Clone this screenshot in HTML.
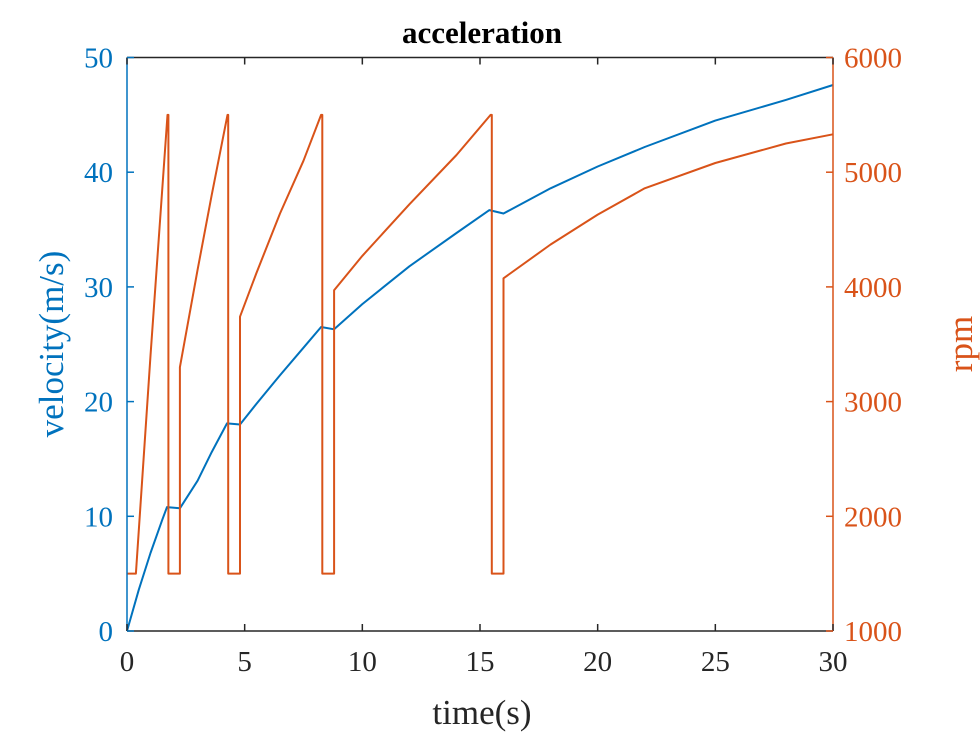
<!DOCTYPE html>
<html><head><meta charset="utf-8"><style>
body{margin:0;background:#fff;width:980px;height:735px;overflow:hidden}
svg{display:block;font-family:"Liberation Serif",serif}
</style></head><body>
<svg id="chart" width="980" height="735" viewBox="0 0 980 735"></svg>
<script>
const xTicks=[0,5,10,15,20,25,30];
const yLeftTicks=[0,10,20,30,40,50];
const yRightTicks=[1000,2000,3000,4000,5000,6000];
const velT=[0,0.5,1,1.5,1.7,2.25,3,3.6,4.25,4.8,5.5,6.5,7.5,8.25,8.8,10,12,14,15.4,16,18,20,22,25,28,30];
const velV=[0,3.6,6.8,9.7,10.8,10.7,13.1,15.6,18.1,18.0,19.8,22.3,24.7,26.5,26.3,28.5,31.8,34.7,36.7,36.4,38.6,40.5,42.2,44.5,46.3,47.6];
const rpmT=[0,0.38,1,1.72,1.76,1.76,2.25,2.25,3,3.6,4.27,4.3,4.3,4.8,4.8,5.5,6.5,7.5,8.25,8.3,8.3,8.8,8.8,10,12,14,15.45,15.5,15.5,16,16,18,20,22,25,28,30];
const rpmV=[1500,1500,3400,5500,5500,1500,1500,3300,4150,4800,5500,5500,1500,1500,3740,4120,4640,5100,5500,5500,1500,1500,3970,4270,4720,5150,5500,5500,1500,1500,4075,4370,4630,4860,5080,5250,5330];

const L=127,R=833,T=57.5,B=631;
const sx=t=>L+(t-0)/30*(R-L);
const syL=v=>B-v/50*(B-T);
const syR=v=>B-(v-1000)/5000*(B-T);
const svg=document.getElementById('chart');
const NS='http://www.w3.org/2000/svg';
function mk(tag,attrs,txt){const e=document.createElementNS(NS,tag);for(const k in attrs)e.setAttribute(k,attrs[k]);if(txt!==undefined)e.textContent=txt;svg.appendChild(e);return e;}
const blue='#0072BD',orange='#D95319',dark='#262626';

let d=velT.map((t,i)=>(i?'L':'M')+sx(t).toFixed(1)+','+syL(velV[i]).toFixed(1)).join('');
let p=mk('path',{d:d,fill:'none',stroke:blue,'stroke-width':2,'stroke-linejoin':'round'});


d=rpmT.map((t,i)=>(i?'L':'M')+sx(t).toFixed(1)+','+syR(rpmV[i]).toFixed(1)).join('');
p=mk('path',{d:d,fill:'none',stroke:orange,'stroke-width':2,'stroke-linejoin':'round'});



let a=mk('line',{x1:L,y1:B,x2:R,y2:B,stroke:dark,'stroke-width':1.5});

a=mk('line',{x1:L,y1:T,x2:R,y2:T,stroke:dark,'stroke-width':1.5});

a=mk('line',{x1:L,y1:T,x2:L,y2:B,stroke:blue,'stroke-width':1.5});

a=mk('line',{x1:R,y1:T,x2:R,y2:B,stroke:orange,'stroke-width':1.5});


xTicks.forEach(v=>{
  const x=sx(v);
  mk('line',{x1:x,y1:B,x2:x,y2:B-7,stroke:dark,'stroke-width':1.5});
  mk('line',{x1:x,y1:T,x2:x,y2:T+7,stroke:dark,'stroke-width':1.5});
  const t=mk('text',{x:x,y:B+40,'text-anchor':'middle','font-size':29,fill:dark},v);
  
  
});
yLeftTicks.forEach(v=>{
  const y=syL(v);
  mk('line',{x1:L,y1:y,x2:L+7,y2:y,stroke:blue,'stroke-width':1.5});
  const t=mk('text',{x:L-14,y:y+10,'text-anchor':'end','font-size':29,fill:blue},v);
  
  
});
yRightTicks.forEach(v=>{
  const y=syR(v);
  mk('line',{x1:R,y1:y,x2:R-7,y2:y,stroke:orange,'stroke-width':1.5});
  const t=mk('text',{x:R+11,y:y+10,'text-anchor':'start','font-size':29,fill:orange},v);
  
  
});
let t=mk('text',{x:482,y:43,'text-anchor':'middle','font-size':31,'font-weight':'bold',fill:'#000'},'acceleration');

t=mk('text',{x:482,y:724,'text-anchor':'middle','font-size':35,fill:dark},'time(s)');

t=mk('text',{x:0,y:0,'text-anchor':'middle','font-size':35,fill:blue,transform:'translate(63,344) rotate(-90)'},'velocity(m/s)');

t=mk('text',{x:0,y:0,'text-anchor':'middle','font-size':35,fill:orange,transform:'translate(972,344) rotate(-90)'},'rpm');

</script>
</body></html>
